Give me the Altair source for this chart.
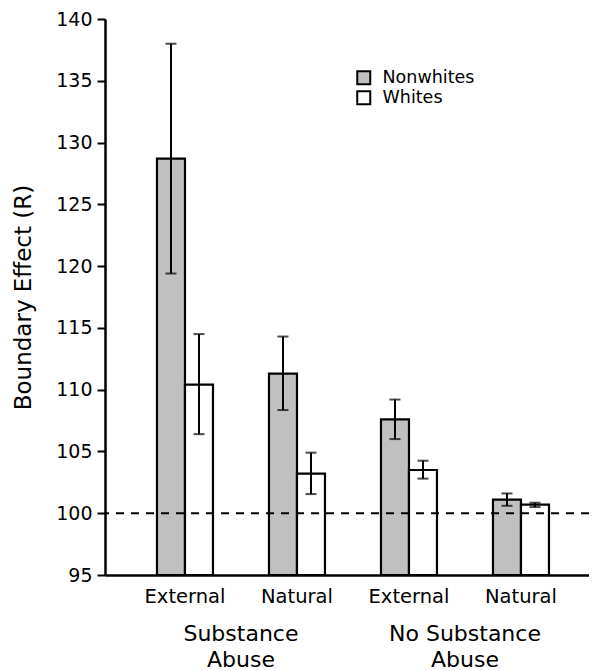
import altair as alt
import pandas as pd

# ---- data ----
categories = ["Substance Abuse|External", "Substance Abuse|Natural",
              "No Substance Abuse|External", "No Substance Abuse|Natural"]
races = ["Nonwhites", "Whites"]
nonwhite_mean = [128.7, 111.3, 107.6, 101.1]
nonwhite_lo = [119.4, 108.35, 106.0, 100.6]
nonwhite_hi = [138.0, 114.3, 109.2, 101.6]
white_mean = [110.4, 103.2, 103.5, 100.7]
white_lo = [106.4, 101.55, 102.8, 100.5]
white_hi = [114.5, 104.9, 104.25, 100.85]
group_labels = ["Substance\nAbuse", "No Substance\nAbuse"]
group_anchor = ["Substance Abuse|External", "No Substance Abuse|External"]
y_ticks = [95, 100, 105, 110, 115, 120, 125, 130, 135, 140]
reference_line = [100]

rows = []
for i, c in enumerate(categories):
    rows.append(dict(cat=c, race="Nonwhites", mean=nonwhite_mean[i],
                     lo=nonwhite_lo[i], hi=nonwhite_hi[i]))
    rows.append(dict(cat=c, race="Whites", mean=white_mean[i],
                     lo=white_lo[i], hi=white_hi[i]))
df = pd.DataFrame(rows)
gdf = pd.DataFrame(dict(cat=group_anchor, label=group_labels))
rdf = pd.DataFrame(dict(v=reference_line))

W, H = 484, 556
FONT = "DejaVu Sans"

xscale = alt.Scale(domain=categories, paddingInner=0.5,
                   paddingOuter=0.4107, align=0.565)
yscale = alt.Scale(domain=[95, 140], nice=False, zero=False)
xoff = alt.XOffset("race:N", scale=alt.Scale(domain=races, paddingInner=0,
                                            paddingOuter=0))

x_enc = alt.X("cat:N", scale=xscale, sort=categories,
              axis=alt.Axis(title=None, labelExpr="split(datum.label, '|')[1]",
                            labelAngle=0, ticks=False, labelPadding=12,
                            labelFontSize=19.5, labelColor="black",
                            domainColor="black", domainWidth=2.5,
                            labelFont=FONT))

base = alt.Chart(df)

bars = base.mark_bar(stroke="black", strokeWidth=2.2).encode(
    x=x_enc,
    xOffset=xoff,
    y=alt.Y("mean:Q", scale=yscale,
            axis=alt.Axis(title="Boundary Effect (R)", values=y_ticks,
                          tickSize=8, tickWidth=2, tickColor="black",
                          domainColor="black", domainWidth=2.5,
                          labelFontSize=19, labelColor="black", labelPadding=5,
                          labelFont=FONT, titleFont=FONT, titleFontSize=23,
                          titleFontWeight="normal", titleColor="black",
                          titlePadding=20, grid=False)),
    y2=alt.datum(95),
    fill=alt.Fill("race:N", scale=alt.Scale(domain=races,
                                            range=["#c0c0c0", "#ffffff"]),
                  legend=alt.Legend(title=None, orient="none", legendX=250,
                                    legendY=50, symbolType="square",
                                    symbolSize=169, symbolStrokeColor="black",
                                    symbolStrokeWidth=2, labelFontSize=17.5,
                                    labelFont=FONT, labelColor="black",
                                    labelOffset=10, rowPadding=-2, padding=0)),
)

err = base.mark_rule(color="black", strokeWidth=2).encode(
    x=alt.X("cat:N", scale=xscale, sort=categories),
    xOffset=xoff,
    y=alt.Y("lo:Q", scale=yscale),
    y2="hi:Q",
)
cap_hi = base.mark_tick(color="black", thickness=2, size=11, orient="horizontal").encode(
    x=alt.X("cat:N", scale=xscale, sort=categories),
    xOffset=xoff,
    y=alt.Y("hi:Q", scale=yscale),
)
cap_lo = base.mark_tick(color="black", thickness=2, size=11, orient="horizontal").encode(
    x=alt.X("cat:N", scale=xscale, sort=categories),
    xOffset=xoff,
    y=alt.Y("lo:Q", scale=yscale),
)

ref = alt.Chart(rdf).mark_rule(color="black", strokeWidth=2,
                               strokeDash=[8, 7]).encode(
    y=alt.Y("v:Q", scale=yscale),
)

glabels = alt.Chart(gdf).mark_text(font=FONT, fontSize=22, color="black",
                                   align="center", baseline="alphabetic",
                                   lineBreak="\n", lineHeight=25.7,
                                   dx=56).encode(
    x=alt.X("cat:N", scale=xscale, sort=categories),
    y=alt.value(H + 66),
    text="label:N",
)

chart = alt.layer(bars, ref, err, cap_hi, cap_lo, glabels).properties(
    width=W, height=H,
    autosize=alt.AutoSizeParams(type="none"),
    padding={"left": 97, "top": 11, "right": 0, "bottom": 96},
).configure(font=FONT).configure_view(stroke=None)

chart.save("out.html", embed_options={"renderer": "svg", "actions": False})
